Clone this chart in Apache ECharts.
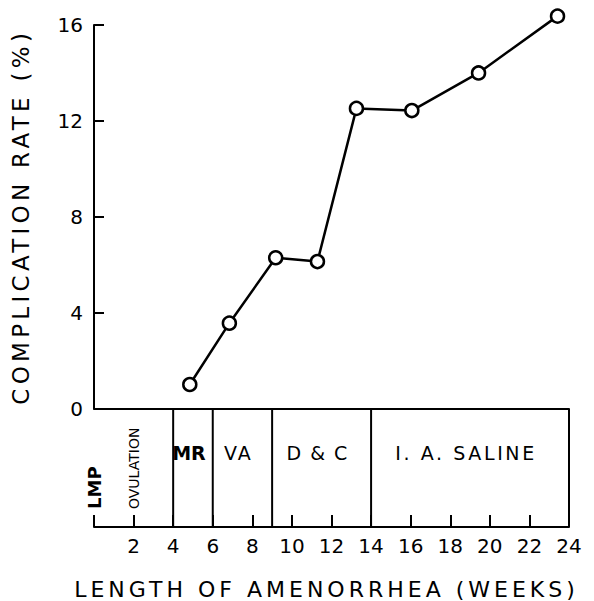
<!DOCTYPE html>
<html>
<head>
<meta charset="utf-8">
<script src="https://cdn.jsdelivr.net/npm/echarts@6/dist/echarts.min.js"></script>
<style>
html,body{margin:0;padding:0;background:#fff;}
#chart{width:594px;height:601px;}
</style>
</head>
<body>
<div id="chart"></div>
<script>
// ---- data ----
const weeks = [4.84, 6.84, 9.18, 11.29, 13.26, 16.06, 19.43, 23.42];
const rates = [1.0, 3.56, 6.29, 6.13, 12.52, 12.43, 14.0, 16.37];
const procedureNames = ['MR', 'VA', 'D & C', 'I. A. SALINE'];
const procedureStart = [4, 6, 9, 14];
const procedureEnd = [6, 9, 14, 24];
const boundaries = [4, 6, 9, 14, 24];
const markerNames = ['LMP', 'OVULATION'];
const markerWeeks = [0, 2];
const yTickValues = [0, 4, 8, 12, 16];
const xTickValues = [2, 4, 6, 8, 10, 12, 14, 16, 18, 20, 22, 24];
const xTitle = 'LENGTH OF AMENORRHEA (WEEKS)';
const yTitle = 'COMPLICATION RATE (%)';

const FONT = '"DejaVu Sans", "Liberation Sans", sans-serif';
const chart = echarts.init(document.getElementById('chart'), null, {renderer: 'svg'});

const points = weeks.map((w, i) => [w, rates[i]]);
const procData = procedureNames.map((n, i) => [procedureStart[i], procedureEnd[i], n]);
const markerData = markerNames.map((n, i) => [markerWeeks[i], n]);

const option = {
  backgroundColor: '#fff',
  animation: false,
  grid: [
    {left: 94, right: 25, top: 25, bottom: 192.5},
    {left: 94, right: 25, top: 409, bottom: 74}
  ],
  xAxis: [
    {
      gridIndex: 0, type: 'value', min: 0, max: 24, interval: 2,
      axisLine: {show: true, lineStyle: {color: '#000', width: 2}},
      axisTick: {show: false}, axisLabel: {show: false}, splitLine: {show: false}
    },
    {
      gridIndex: 1, type: 'value', min: 0, max: 24, interval: 2,
      axisLine: {show: true, lineStyle: {color: '#000', width: 2}},
      axisTick: {show: true, inside: true, length: 12, lineStyle: {color: '#000', width: 2}},
      axisLabel: {
        show: true, margin: 9, color: '#000', fontSize: 20, fontFamily: FONT,
        formatter: v => xTickValues.indexOf(v) >= 0 ? String(v) : ''
      },
      splitLine: {show: false},
      name: xTitle, nameLocation: 'middle', nameGap: 51,
      nameTextStyle: {color: '#000', fontSize: 22, fontFamily: FONT, padding: [0, 10, 0, 0]}
    }
  ],
  yAxis: [
    {
      gridIndex: 0, type: 'value', min: 0, max: 16, interval: 4,
      axisLine: {show: true, lineStyle: {color: '#000', width: 2}},
      axisTick: {show: true, inside: true, length: 10, lineStyle: {color: '#000', width: 2}},
      axisLabel: {
        color: '#000', fontSize: 20, fontFamily: FONT, margin: 11,
        formatter: v => yTickValues.indexOf(v) >= 0 ? String(v) : ''
      },
      splitLine: {show: false},
      name: yTitle, nameLocation: 'middle', nameGap: 62, nameRotate: 90,
      nameTextStyle: {color: '#000', fontSize: 23, fontFamily: FONT}
    },
    {
      gridIndex: 1, type: 'value', min: 0, max: 1, show: false
    }
  ],
  series: [
    {
      type: 'line', xAxisIndex: 0, yAxisIndex: 0, data: points,
      symbol: 'circle', symbolSize: 13, clip: false,
      lineStyle: {color: '#000', width: 2.5},
      itemStyle: {color: '#fff', borderColor: '#000', borderWidth: 2.5},
      z: 5
    },
    {
      type: 'custom', xAxisIndex: 1, yAxisIndex: 1, data: boundaries.map(b => [b]),
      renderItem: (params, api) => {
        const p0 = api.coord([api.value(0), 0]);
        const p1 = api.coord([api.value(0), 1]);
        return {type: 'line', shape: {x1: p0[0], y1: p0[1], x2: p1[0], y2: p1[1]},
          style: {stroke: '#000', lineWidth: 2}};
      }
    },
    {
      type: 'custom', xAxisIndex: 1, yAxisIndex: 1, data: procData,
      renderItem: (params, api) => {
        const mid = (api.value(0) + api.value(1)) / 2;
        const p = api.coord([mid, 0.63]);
        const name = procData[params.dataIndex][2];
        return {type: 'text', x: p[0] - 4, y: p[1],
          style: {text: name, fill: '#000',
            font: (name === 'MR' ? 'bold ' : '') + '19px ' + FONT, align: 'center', verticalAlign: 'middle'}};
      }
    },
    {
      type: 'custom', xAxisIndex: 1, yAxisIndex: 1, data: markerData,
      renderItem: (params, api) => {
        const p = api.coord([api.value(0), 0]);
        const name = markerData[params.dataIndex][1];
        const isLmp = name === 'LMP';
        return {type: 'text', x: p[0], y: p[1] - 18, rotation: Math.PI / 2,
          style: {text: name, fill: '#000',
            font: (isLmp ? 'bold 18px ' : '14px ') + FONT, align: 'left', verticalAlign: 'middle'}};
      }
    }
  ]
};
chart.setOption(option);

// letter spacing like the original lettering
const spacing = {};
spacing[xTitle] = '4px';
spacing[yTitle] = '4.3px';
spacing['I. A. SALINE'] = '2.6px';
spacing['D & C'] = '1.5px';
spacing['VA'] = '2px';
function applySpacing() {
  document.querySelectorAll('#chart text').forEach(t => {
    const s = spacing[t.textContent];
    if (s !== undefined) t.setAttribute('letter-spacing', s);
  });
}
applySpacing();
chart.on('finished', applySpacing);
</script>
</body>
</html>
